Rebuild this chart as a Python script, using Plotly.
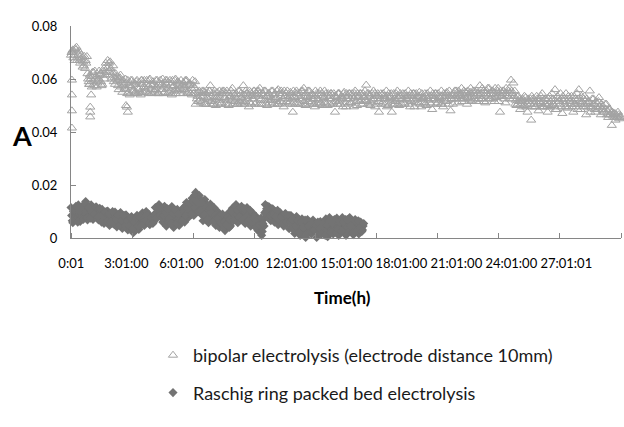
import numpy as np
import plotly.graph_objects as go

# ---------------- data ----------------
STEP_H = 0.1  # each reading set is sampled every 0.1 h; sets B and C are offset by 1/3 and 2/3 step

# bipolar electrolysis (electrode distance 10mm): absorbance, reading set A (t = 0, 0.1, 0.2 ...)
bipolar_A = [
    0.069, 0.071, 0.067, 0.072, 0.069, 0.066, 0.068, 0.065, 0.067, 0.062,
    0.058, 0.061, 0.059, 0.063, 0.057, 0.060, 0.062, 0.058, 0.064, 0.066,
    0.067, 0.063, 0.060, 0.065, 0.058, 0.061, 0.056, 0.0615, 0.055, 0.058,
    0.056, 0.0595, 0.054, 0.057, 0.0585, 0.055, 0.0595, 0.056, 0.054, 0.058,
    0.0595, 0.055, 0.057, 0.060, 0.0545, 0.058, 0.056, 0.0595, 0.0545, 0.0575,
    0.0600, 0.055, 0.058, 0.0565, 0.0595, 0.054, 0.0575, 0.0600, 0.0555, 0.058,
    0.0595, 0.0545, 0.057, 0.0595, 0.0555, 0.058, 0.054, 0.0545, 0.0505, 0.0535,
    0.0555, 0.051, 0.0535, 0.055, 0.0505, 0.0545, 0.0575, 0.052, 0.0545, 0.050,
    0.0535, 0.0555, 0.051, 0.0545, 0.0525, 0.0555, 0.050, 0.0535, 0.0565, 0.0515,
    0.0545, 0.0505, 0.0555, 0.053, 0.0575, 0.0515, 0.0545, 0.0495, 0.055, 0.0525,
    0.0555, 0.051, 0.054, 0.0565, 0.0505, 0.0535, 0.0555, 0.050, 0.0545, 0.052,
    0.0555, 0.0505, 0.053, 0.056, 0.0515, 0.0545, 0.0495, 0.0535, 0.0555, 0.051,
    0.0545, 0.0475, 0.053, 0.0555, 0.0505, 0.0545, 0.052, 0.0565, 0.050, 0.0535,
    0.0555, 0.051, 0.054, 0.0495, 0.0545, 0.052, 0.0555, 0.050, 0.053, 0.0545,
    0.050, 0.0535, 0.0545, 0.051, 0.0475, 0.053, 0.0545, 0.0505, 0.0525, 0.0550,
    0.0495, 0.0535, 0.0545, 0.051, 0.0525, 0.0555, 0.050, 0.0535, 0.0545, 0.0505,
    0.053, 0.0577, 0.0505, 0.054, 0.052, 0.0555, 0.0495, 0.0535, 0.0475, 0.0545,
    0.051, 0.0535, 0.0555, 0.050, 0.053, 0.0475, 0.0545, 0.0515, 0.0555, 0.0500,
    0.0535, 0.0545, 0.0505, 0.0525, 0.0555, 0.0495, 0.0535, 0.0545, 0.051, 0.0525,
    0.055, 0.0495, 0.053, 0.0545, 0.050, 0.052, 0.0555, 0.0485, 0.0535, 0.0545,
    0.051, 0.053, 0.0555, 0.0495, 0.0535, 0.055, 0.0505, 0.048, 0.054, 0.0525,
    0.0555, 0.051, 0.0545, 0.0565, 0.0525, 0.055, 0.0505, 0.0540, 0.0565, 0.052,
    0.0555, 0.0515, 0.0545, 0.0575, 0.0525, 0.0555, 0.051, 0.054, 0.0565, 0.0525,
    0.0555, 0.0515, 0.0545, 0.0565, 0.0475, 0.0535, 0.0555, 0.051, 0.0545, 0.0565,
    0.0596, 0.0525, 0.0555, 0.050, 0.0535, 0.0485, 0.052, 0.050, 0.053, 0.0475,
    0.0515, 0.0445, 0.0525, 0.0495, 0.0535, 0.048, 0.051, 0.0545, 0.0495, 0.0525,
    0.0475, 0.0535, 0.050, 0.0525, 0.056, 0.0485, 0.0515, 0.0545, 0.0470, 0.0525,
    0.0545, 0.049, 0.0515, 0.0535, 0.0475, 0.0525, 0.0545, 0.056, 0.0485, 0.051,
    0.0535, 0.0465, 0.0515, 0.0555, 0.0490, 0.0525, 0.0475, 0.0505, 0.0530, 0.0465,
    0.0495, 0.0475, 0.0505, 0.0455, 0.0485, 0.0425, 0.047, 0.0445, 0.046, 0.0450,
]
# reading set B (t = 0.033, 0.133 ...)
bipolar_B = [
    0.070, 0.068, 0.0715, 0.067, 0.0705, 0.0675, 0.0645, 0.0685, 0.066, 0.060,
    0.0615, 0.057, 0.0625, 0.060, 0.0585, 0.063, 0.059, 0.0615, 0.060, 0.0625,
    0.0645, 0.0665, 0.0615, 0.059, 0.062, 0.0595, 0.060, 0.057, 0.0595, 0.0565,
    0.0585, 0.055, 0.0575, 0.0595, 0.0555, 0.058, 0.0545, 0.0585, 0.0595, 0.055,
    0.0565, 0.0595, 0.0545, 0.058, 0.0575, 0.0555, 0.0595, 0.0545, 0.0585, 0.056,
    0.0545, 0.0585, 0.0595, 0.055, 0.0575, 0.0595, 0.0555, 0.0545, 0.059, 0.0565,
    0.056, 0.0585, 0.0595, 0.055, 0.0575, 0.0545, 0.0595, 0.0565, 0.0545, 0.0515,
    0.052, 0.0545, 0.0555, 0.0505, 0.053, 0.0555, 0.0515, 0.0505, 0.0555, 0.053,
    0.0505, 0.053, 0.0545, 0.0555, 0.0505, 0.052, 0.0545, 0.0555, 0.0505, 0.054,
    0.0525, 0.0555, 0.051, 0.0505, 0.054, 0.0555, 0.0525, 0.0555, 0.0505, 0.054,
    0.0505, 0.0545, 0.0555, 0.052, 0.0545, 0.0555, 0.0505, 0.0535, 0.051, 0.0555,
    0.052, 0.0545, 0.0555, 0.0505, 0.0535, 0.051, 0.0555, 0.0545, 0.0505, 0.0535,
    0.0525, 0.0555, 0.0505, 0.0545, 0.0535, 0.0505, 0.0555, 0.0515, 0.0545, 0.0555,
    0.0505, 0.0545, 0.0525, 0.0555, 0.0505, 0.0545, 0.051, 0.0535, 0.0555, 0.0505,
    0.0545, 0.0505, 0.0525, 0.0545, 0.0535, 0.0505, 0.0545, 0.0525, 0.0495, 0.0535,
    0.0545, 0.0505, 0.0525, 0.0545, 0.0495, 0.0535, 0.0545, 0.0515, 0.0505, 0.0545,
    0.0555, 0.0515, 0.0545, 0.0500, 0.0545, 0.0525, 0.0505, 0.0545, 0.0535, 0.0505,
    0.0545, 0.0525, 0.0495, 0.0545, 0.0535, 0.0505, 0.0525, 0.0545, 0.0505, 0.0535,
    0.0505, 0.0525, 0.0545, 0.0535, 0.0505, 0.0545, 0.0525, 0.0495, 0.0545, 0.0535,
    0.0505, 0.0545, 0.0525, 0.0505, 0.0545, 0.0535, 0.0505, 0.0545, 0.0525, 0.0505,
    0.0545, 0.0525, 0.0505, 0.0545, 0.0515, 0.0535, 0.0555, 0.0525, 0.0505, 0.0555,
    0.0525, 0.0555, 0.0535, 0.0515, 0.0555, 0.0525, 0.0555, 0.0525, 0.0515, 0.0555,
    0.0535, 0.0555, 0.0525, 0.0545, 0.0565, 0.0515, 0.0545, 0.0565, 0.0525, 0.0545,
    0.0525, 0.0565, 0.0535, 0.0515, 0.0555, 0.0545, 0.0525, 0.0565, 0.0535, 0.0525,
    0.0555, 0.0585, 0.0505, 0.0535, 0.0515, 0.0505, 0.0525, 0.0535, 0.0495, 0.0525,
    0.0505, 0.0535, 0.0515, 0.0495, 0.0525, 0.0515, 0.0535, 0.0495, 0.0525, 0.0505,
    0.0525, 0.0495, 0.0545, 0.0505, 0.0485, 0.0535, 0.0515, 0.0495, 0.0535, 0.0505,
    0.0495, 0.0535, 0.0515, 0.0495, 0.0535, 0.0505, 0.0485, 0.0515, 0.0535, 0.0495,
    0.0505, 0.0525, 0.0495, 0.0475, 0.0525, 0.0505, 0.0515, 0.0485, 0.0495, 0.0505,
    0.0485, 0.0505, 0.0465, 0.0485, 0.0465, 0.0475, 0.0455, 0.0465, 0.0475, 0.0455,
]
# reading set C (t = 0.067, 0.167 ...)
bipolar_C = [
    0.0705, 0.069, 0.071, 0.068, 0.067, 0.069, 0.0665, 0.064, 0.0685, 0.059,
    0.060, 0.0625, 0.0575, 0.061, 0.0595, 0.0615, 0.0575, 0.063, 0.0615, 0.064,
    0.0660, 0.0640, 0.0625, 0.0605, 0.0600, 0.0575, 0.0605, 0.0585, 0.0575, 0.0600,
    0.0545, 0.0575, 0.0595, 0.0555, 0.0545, 0.0590, 0.0565, 0.0550, 0.0595, 0.0570,
    0.0555, 0.0580, 0.0595, 0.0560, 0.0590, 0.0550, 0.0570, 0.0545, 0.0595, 0.0580,
    0.0570, 0.0595, 0.0545, 0.0585, 0.0555, 0.0570, 0.0595, 0.0560, 0.0585, 0.0545,
    0.0575, 0.0560, 0.0590, 0.0545, 0.0585, 0.0565, 0.0575, 0.0590, 0.0525, 0.0550,
    0.0535, 0.0555, 0.0505, 0.0545, 0.0525, 0.0555, 0.0535, 0.0505, 0.0525, 0.0550,
    0.0520, 0.0505, 0.0555, 0.0530, 0.0545, 0.0505, 0.0535, 0.0520, 0.0545, 0.0530,
    0.0505, 0.0535, 0.0545, 0.0520, 0.0505, 0.0545, 0.0535, 0.0510, 0.0535, 0.0555,
    0.0535, 0.0555, 0.0505, 0.0525, 0.0545, 0.0520, 0.0535, 0.0545, 0.0530, 0.0505,
    0.0540, 0.0525, 0.0505, 0.0545, 0.0555, 0.0525, 0.0535, 0.0515, 0.0525, 0.0550,
    0.0505, 0.0535, 0.0545, 0.0510, 0.0525, 0.0555, 0.0535, 0.0505, 0.0530, 0.0515,
    0.0535, 0.0525, 0.0505, 0.0535, 0.0525, 0.0505, 0.0545, 0.0525, 0.0510, 0.0535,
    0.0525, 0.0545, 0.0505, 0.0535, 0.0515, 0.0545, 0.0520, 0.0535, 0.0545, 0.0510,
    0.0525, 0.0545, 0.0510, 0.0535, 0.0545, 0.0515, 0.0530, 0.0545, 0.0520, 0.0535,
    0.0520, 0.0545, 0.0535, 0.0510, 0.0525, 0.0545, 0.0535, 0.0515, 0.0525, 0.0540,
    0.0525, 0.0505, 0.0535, 0.0525, 0.0545, 0.0520, 0.0505, 0.0535, 0.0525, 0.0545,
    0.0525, 0.0510, 0.0535, 0.0520, 0.0535, 0.0515, 0.0545, 0.0520, 0.0535, 0.0510,
    0.0535, 0.0525, 0.0510, 0.0535, 0.0525, 0.0510, 0.0535, 0.0525, 0.0545, 0.0520,
    0.0535, 0.0505, 0.0535, 0.0525, 0.0545, 0.0520, 0.0535, 0.0525, 0.0545, 0.0535,
    0.0540, 0.0535, 0.0525, 0.0545, 0.0535, 0.0545, 0.0530, 0.0550, 0.0535, 0.0545,
    0.0525, 0.0545, 0.0535, 0.0525, 0.0545, 0.0535, 0.0555, 0.0535, 0.0545, 0.0555,
    0.0545, 0.0530, 0.0555, 0.0540, 0.0535, 0.0555, 0.0545, 0.0535, 0.0555, 0.0545,
    0.0545, 0.0535, 0.0520, 0.0505, 0.0525, 0.0515, 0.0495, 0.0515, 0.0505, 0.0515,
    0.0525, 0.0495, 0.0505, 0.0515, 0.0505, 0.0525, 0.0495, 0.0515, 0.0505, 0.0495,
    0.0505, 0.0515, 0.0525, 0.0495, 0.0515, 0.0525, 0.0505, 0.0525, 0.0515, 0.0495,
    0.0515, 0.0525, 0.0505, 0.0515, 0.0505, 0.0495, 0.0525, 0.0505, 0.0515, 0.0525,
    0.0495, 0.0505, 0.0515, 0.0495, 0.0505, 0.0485, 0.0495, 0.0515, 0.0495, 0.0485,
    0.0475, 0.0485, 0.0480, 0.0465, 0.0475, 0.0460, 0.0470, 0.0455, 0.0465, 0.0460,
]
# off-grid readings of the same run (scattered low points at start-up)
bipolar_extra_t = [0.05, 0.05, 0.05, 0.05, 1.05, 1.05, 1.05, 1.1, 1.0, 3.05, 3.1, 3.0]
bipolar_extra_A = [0.0415, 0.048, 0.054, 0.0596, 0.0494, 0.0475, 0.0457, 0.054, 0.058, 0.0494, 0.0475, 0.050]

# Raschig ring packed bed electrolysis: reading sets A, B, C (same sampling as above)
raschig_A = [
    0.0115, 0.0058, 0.0098, 0.0078, 0.0125, 0.0062, 0.0108, 0.0085, 0.0138, 0.0068,
    0.0092, 0.0125, 0.0070, 0.0100, 0.0115, 0.0068, 0.0090, 0.0108, 0.0055, 0.0080,
    0.0102, 0.0047, 0.0082, 0.0065, 0.0098, 0.0042, 0.0078, 0.0096, 0.0036, 0.0062,
    0.0088, 0.0030, 0.0058, 0.0081, 0.0020, 0.0050, 0.0086, 0.0032, 0.0068, 0.0095,
    0.0047, 0.0100, 0.0070, 0.0050, 0.0077, 0.0060, 0.0115, 0.0078, 0.0126, 0.0090,
    0.0060, 0.0120, 0.0045, 0.0095, 0.0070, 0.0119, 0.0040, 0.0085, 0.0108, 0.0047,
    0.0078, 0.0112, 0.0060, 0.0134, 0.0077, 0.0110, 0.0150, 0.0085, 0.0172, 0.0120,
    0.0160, 0.0090, 0.0065, 0.0145, 0.0100, 0.0058, 0.0128, 0.0080, 0.0115, 0.0047,
    0.0100, 0.0040, 0.0068, 0.0085, 0.0028, 0.0055, 0.0095, 0.0045, 0.0112, 0.0075,
    0.0126, 0.0058, 0.0095, 0.0120, 0.0075, 0.0055, 0.0115, 0.0085, 0.0045, 0.0095,
    0.0060, 0.0081, 0.0028, 0.0055, 0.0010, 0.0070, 0.0126, 0.0080, 0.0118, 0.0065,
    0.0110, 0.0060, 0.0090, 0.0050, 0.0096, 0.0070, 0.0045, 0.0092, 0.0060, 0.0035,
    0.0085, 0.0055, 0.0017, 0.0081, 0.0040, 0.0010, 0.0072, 0.0030, 0.0002, 0.0070,
    0.0045, 0.0015, 0.0068, 0.0030, 0.0002, 0.0055, 0.0062, 0.0020, 0.0040, 0.0072,
    0.0005, 0.0077, 0.0035, 0.0015, 0.0060, 0.0075, 0.0010, 0.0045, 0.0077, 0.0025,
    0.0010, 0.0060, 0.0077, 0.0035, 0.0012, 0.0070, 0.0050, 0.0015, 0.0060, 0.0030,
]
raschig_B = [
    0.0085, 0.0100, 0.0070, 0.0112, 0.0090, 0.0075, 0.0120, 0.0095, 0.0105, 0.0080,
    0.0105, 0.0085, 0.0115, 0.0080, 0.0088, 0.0105, 0.0075, 0.0095, 0.0070, 0.0100,
    0.0070, 0.0090, 0.0055, 0.0088, 0.0075, 0.0062, 0.0090, 0.0050, 0.0080, 0.0085,
    0.0045, 0.0075, 0.0040, 0.0060, 0.0070, 0.0030, 0.0065, 0.0055, 0.0085, 0.0060,
    0.0080, 0.0060, 0.0090, 0.0065, 0.0062, 0.0072, 0.0095, 0.0100, 0.0090, 0.0110,
    0.0100, 0.0075, 0.0080, 0.0060, 0.0105, 0.0085, 0.0065, 0.0100, 0.0070, 0.0090,
    0.0095, 0.0070, 0.0120, 0.0090, 0.0118, 0.0095, 0.0125, 0.0160, 0.0105, 0.0145,
    0.0125, 0.0140, 0.0110, 0.0080, 0.0125, 0.0090, 0.0075, 0.0100, 0.0065, 0.0090,
    0.0065, 0.0085, 0.0050, 0.0040, 0.0070, 0.0065, 0.0040, 0.0080, 0.0090, 0.0100,
    0.0090, 0.0110, 0.0075, 0.0085, 0.0100, 0.0095, 0.0070, 0.0100, 0.0070, 0.0060,
    0.0080, 0.0045, 0.0065, 0.0040, 0.0025, 0.0045, 0.0100, 0.0120, 0.0095, 0.0110,
    0.0085, 0.0100, 0.0070, 0.0075, 0.0060, 0.0085, 0.0080, 0.0065, 0.0075, 0.0085,
    0.0040, 0.0075, 0.0060, 0.0045, 0.0070, 0.0030, 0.0050, 0.0060, 0.0045, 0.0020,
    0.0060, 0.0040, 0.0050, 0.0055, 0.0035, 0.0020, 0.0040, 0.0045, 0.0060, 0.0030,
    0.0045, 0.0055, 0.0065, 0.0045, 0.0030, 0.0045, 0.0055, 0.0065, 0.0030, 0.0055,
    0.0045, 0.0035, 0.0055, 0.0060, 0.0050, 0.0040, 0.0030, 0.0060, 0.0035, 0.0045,
]
raschig_C = [
    0.0065, 0.0105, 0.0120, 0.0060, 0.0100, 0.0115, 0.0070, 0.0130, 0.0075, 0.0115,
    0.0075, 0.0100, 0.0090, 0.0118, 0.0080, 0.0112, 0.0060, 0.0085, 0.0098, 0.0062,
    0.0090, 0.0060, 0.0100, 0.0050, 0.0070, 0.0088, 0.0050, 0.0065, 0.0085, 0.0045,
    0.0065, 0.0045, 0.0075, 0.0035, 0.0060, 0.0078, 0.0045, 0.0080, 0.0050, 0.0075,
    0.0065, 0.0085, 0.0055, 0.0075, 0.0055, 0.0085, 0.0075, 0.0110, 0.0085, 0.0075,
    0.0085, 0.0095, 0.0110, 0.0075, 0.0055, 0.0095, 0.0105, 0.0055, 0.0090, 0.0065,
    0.0065, 0.0100, 0.0085, 0.0110, 0.0130, 0.0088, 0.0138, 0.0115, 0.0135, 0.0100,
    0.0105, 0.0130, 0.0088, 0.0115, 0.0070, 0.0110, 0.0095, 0.0060, 0.0085, 0.0075,
    0.0080, 0.0058, 0.0090, 0.0060, 0.0050, 0.0078, 0.0070, 0.0100, 0.0065, 0.0118,
    0.0105, 0.0080, 0.0115, 0.0068, 0.0110, 0.0082, 0.0065, 0.0105, 0.0060, 0.0075,
    0.0040, 0.0068, 0.0050, 0.0075, 0.0055, 0.0095, 0.0110, 0.0100, 0.0085, 0.0090,
    0.0095, 0.0080, 0.0105, 0.0065, 0.0080, 0.0055, 0.0090, 0.0060, 0.0085, 0.0060,
    0.0070, 0.0030, 0.0045, 0.0065, 0.0020, 0.0060, 0.0040, 0.0068, 0.0015, 0.0045,
    0.0025, 0.0055, 0.0030, 0.0050, 0.0060, 0.0035, 0.0015, 0.0055, 0.0010, 0.0050,
    0.0065, 0.0020, 0.0055, 0.0070, 0.0020, 0.0035, 0.0060, 0.0025, 0.0060, 0.0070,
    0.0070, 0.0025, 0.0045, 0.0020, 0.0065, 0.0025, 0.0065, 0.0040, 0.0025, 0.0055,
]

# axis tick labels (elapsed time) and their positions in hours
x_labels = ["0:01", "3:01:00", "6:01:00", "9:01:00", "12:01:00", "15:01:00",
            "18:01:00", "21:01:00", "24:01:00", "27:01:01"]
x_label_hours = [0.017, 3.017, 6.017, 9.017, 12.017, 15.017, 18.017, 21.017, 24.017, 27.017]
x_tickmark_hours = [0, 10/3, 20/3, 10, 40/3, 50/3, 20, 70/3, 80/3, 30]
y_ticks = [0, 0.02, 0.04, 0.06, 0.08]
y_ticktext = ["0", "0.02", "0.04", "0.06", "0.08"]

series_names = ["bipolar electrolysis (electrode distance 10mm)",
                "Raschig ring packed bed electrolysis"]


# ---------------- figure ----------------
def sample_times(n, offset):
    return list(np.arange(n) * STEP_H + offset * STEP_H)


bip_t = (sample_times(len(bipolar_A), 0) + sample_times(len(bipolar_B), 1/3)
         + sample_times(len(bipolar_C), 2/3) + bipolar_extra_t)
bip_y = bipolar_A + bipolar_B + bipolar_C + bipolar_extra_A
ras_t = (sample_times(len(raschig_A), 0) + sample_times(len(raschig_B), 1/3)
         + sample_times(len(raschig_C), 2/3))
ras_y = raschig_A + raschig_B + raschig_C

AX = "#868686"
FONT = "Lato, Carlito, Calibri, Arial, sans-serif"
fig = go.Figure()
fig.add_trace(go.Scatter(
    x=bip_t, y=bip_y, mode="markers", name=series_names[0], legendgroup="a",
    marker=dict(symbol="triangle-up-open", size=8, color="#A3A3A3", line=dict(width=1, color="#A3A3A3")),
    cliponaxis=False,
))
fig.add_trace(go.Scatter(
    x=ras_t, y=ras_y, mode="markers", name=series_names[1], legendgroup="b",
    marker=dict(symbol="diamond", size=7, color="#737373", line=dict(width=0)),
    cliponaxis=False,
))

fig.update_layout(
    width=624, height=427,
    margin=dict(l=71, r=3, t=26, b=189),
    paper_bgcolor="white", plot_bgcolor="white",
    font=dict(family=FONT, size=13, color="#000000"),
    showlegend=True,
    legend=dict(x=(173 - 20 - 71) / 550, xanchor="left", y=(238 - 337) / 212, yanchor="top",
                font=dict(size=18, color="#1a1a1a", family=FONT),
                tracegroupgap=11, bgcolor="rgba(0,0,0,0)"),
    xaxis=dict(range=[0, 30], showgrid=False, zeroline=False,
               showline=True, linecolor=AX, linewidth=1,
               tickmode="array", tickvals=x_label_hours, ticktext=x_labels, ticks="",
               ticklabelstandoff=13, tickfont=dict(size=13),
               minor=dict(tickmode="array", tickvals=x_tickmark_hours, ticks="inside",
                          ticklen=5, tickcolor=AX, tickwidth=1, showgrid=False)),
    yaxis=dict(range=[0, 0.08], showgrid=False, zeroline=False,
               showline=True, linecolor=AX, linewidth=1,
               tickmode="array", tickvals=y_ticks, ticktext=y_ticktext,
               ticks="inside", ticklen=5, tickcolor=AX, tickwidth=1,
               ticklabelstandoff=10, tickfont=dict(size=13)),
    annotations=[
        dict(text="<b>Time(h)</b>", xref="paper", yref="paper", x=(342 - 71) / 550, y=(238 - 297) / 212,
             xanchor="center", yanchor="middle", showarrow=False,
             font=dict(size=17, family=FONT, color="#000")),
        dict(text="<b>A</b>", xref="paper", yref="paper", x=(22 - 71) / 550, y=(238 - 135) / 212,
             xanchor="center", yanchor="middle", showarrow=False,
             font=dict(size=27, family=FONT, color="#000")),
    ],
)

fig.write_html("out.html")
